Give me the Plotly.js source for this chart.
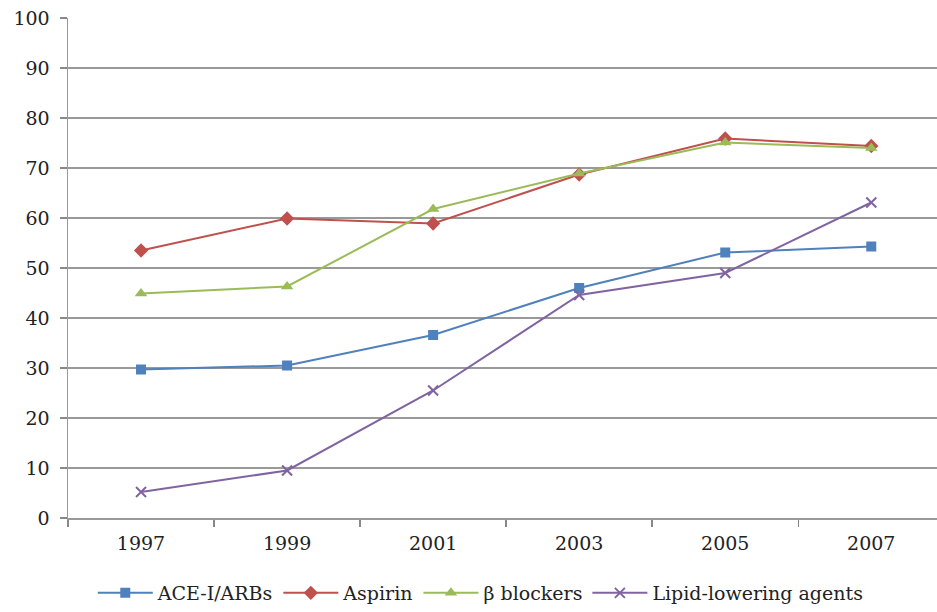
<!DOCTYPE html>
<html>
<head>
<meta charset="utf-8">
<script src="https://cdn.plot.ly/plotly-3.0.1.min.js"></script>
<style>html,body{margin:0;padding:0;background:#fff;}#chart{width:937px;height:612px;}</style>
</head>
<body>
<div id="chart"></div>
<script>
const years = ["1997", "1999", "2001", "2003", "2005", "2007"];
const aceArbs = [29.7, 30.5, 36.6, 46.0, 53.1, 54.3];
const aspirin = [53.5, 59.9, 58.9, 68.7, 75.9, 74.4];
const betaBlockers = [44.9, 46.3, 61.8, 68.9, 75.1, 74.0];
const lipidLowering = [5.2, 9.5, 25.5, 44.6, 49.0, 63.1];
const seriesNames = ["ACE-I/ARBs", "Aspirin", "β blockers", "Lipid-lowering agents"];
const yTicks = [0, 10, 20, 30, 40, 50, 60, 70, 80, 90, 100];

const font = "DejaVu Serif, Liberation Serif, serif";
function tr(name, y, color, symbol, size) {
  return {
    x: years, y: y, name: name, type: "scatter", mode: "lines+markers",
    line: {color: color, width: 2},
    marker: {color: color, symbol: symbol, size: size, line: {color: color, width: symbol === "x-thin" ? 2 : 0}}
  };
}
const data = [
  tr(seriesNames[0], aceArbs, "#4F81BD", "square", 10),
  tr(seriesNames[1], aspirin, "#C0504D", "diamond", 11),
  tr(seriesNames[2], betaBlockers, "#9BBB59", "triangle-up", 11),
  tr(seriesNames[3], lipidLowering, "#8064A2", "x-thin", 10)
];
const layout = {
  width: 937, height: 612,
  margin: {l: 68, r: 0, t: 18, b: 93},
  paper_bgcolor: "#fff", plot_bgcolor: "#fff",
  font: {family: font, size: 19, color: "#222"},
  showlegend: true,
  legend: {orientation: "h", x: 0.475, xanchor: "center", y: -0.15, yanchor: "middle",
           itemwidth: 55,
           font: {family: font, size: 19, color: "#222"}, traceorder: "normal"},
  xaxis: {
    type: "category", range: [-0.5, 5.45],
    tickson: "boundaries", ticks: "outside", ticklen: 7, tickcolor: "#888", tickwidth: 1.5,
    showgrid: false, showline: true, linecolor: "#999", linewidth: 1.5,
    zeroline: false, tickfont: {family: font, size: 19, color: "#222"},
    ticklabelstandoff: 8
  },
  yaxis: {
    range: [0, 100], tickvals: yTicks, ticktext: yTicks.map(String),
    ticks: "outside", ticklen: 7, tickcolor: "#888", tickwidth: 1.5,
    showgrid: true, gridcolor: "#999", gridwidth: 1.5,
    showline: true, linecolor: "#999", linewidth: 1.5, zeroline: false,
    tickfont: {family: font, size: 19, color: "#222"},
    ticklabelstandoff: 6
  }
};
Plotly.newPlot("chart", data, layout, {displayModeBar: false, staticPlot: true});
</script>
</body>
</html>
